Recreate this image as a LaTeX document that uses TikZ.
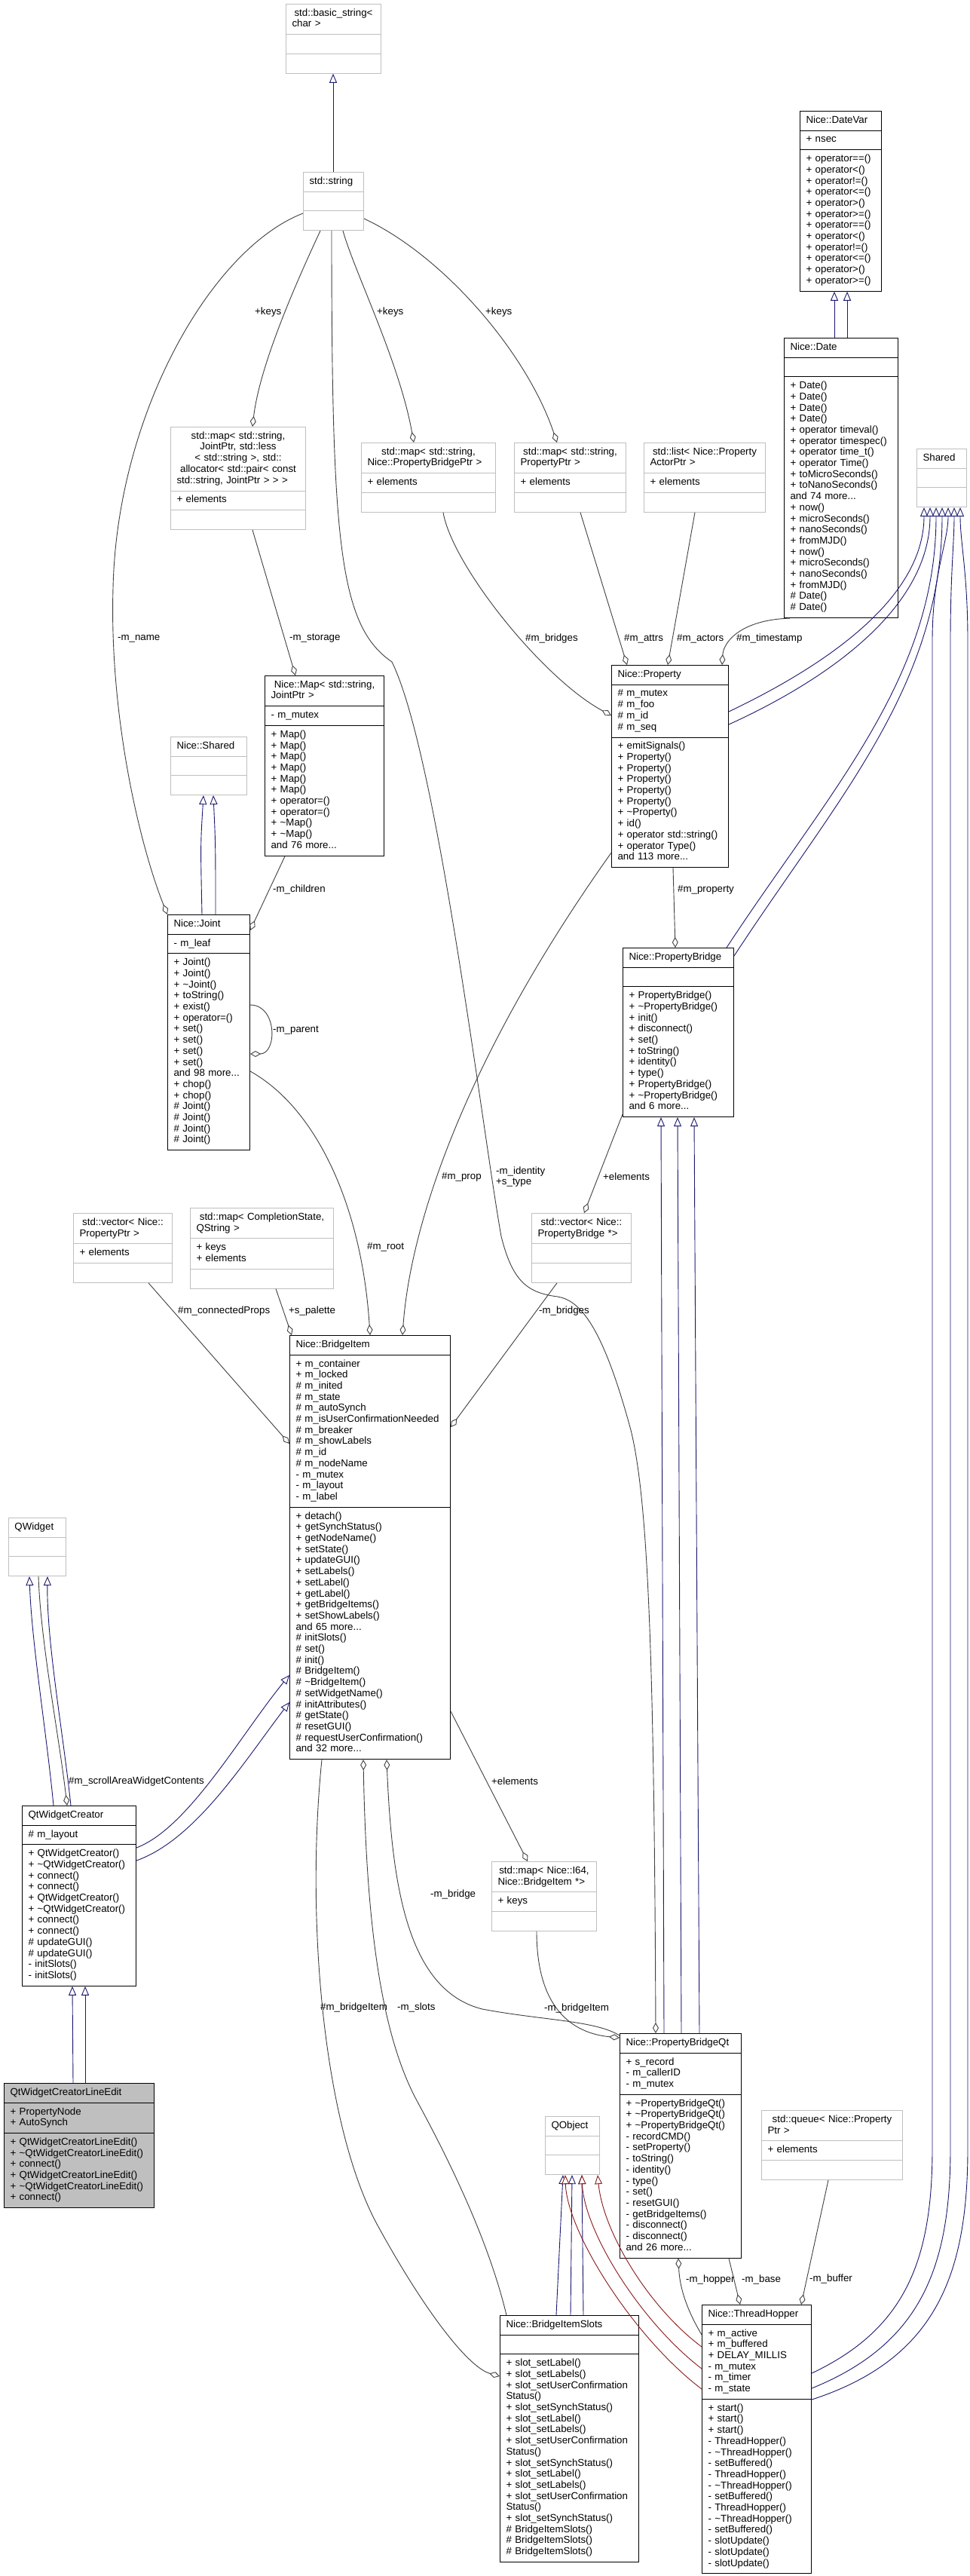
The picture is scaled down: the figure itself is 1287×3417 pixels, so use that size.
\documentclass[tikz,border=0pt]{standalone}
\usepackage{fontspec}
\setmainfont{Liberation Sans}
\usetikzlibrary{shapes.multipart,arrows.meta,calc}
\definecolor{eblue}{RGB}{25,25,112}
\definecolor{ered}{RGB}{139,26,26}
\definecolor{egrey}{RGB}{64,64,64}
\definecolor{bgrey}{RGB}{191,191,191}
\newcommand\mnl{\\\strut}
\newcommand\dfont{\fontsize{13.3}{14.7}\selectfont}
\tikzset{
 cls/.style={rectangle split, rectangle split parts=3, draw=black, line width=1pt,
   inner xsep=8pt, inner ysep=5pt, align=left, anchor=north west, font=\dfont,
   fill=white, text width=#1-16pt},
 ext/.style={cls=#1, draw=bgrey},
 cur/.style={cls=#1, fill=bgrey},
 inh/.style={draw=eblue, line width=0.9pt, -{Triangle[length=12pt,width=10pt,fill=white]}},
 inhr/.style={inh, draw=ered},
 agg/.style={draw=egrey, line width=0.9pt, {Diamond[length=14pt,width=8pt,fill=white]}-},
 lbl/.style={font=\dfont, inner sep=0pt, anchor=west},
}
\begin{document}
\begin{tikzpicture}[x=1pt,y=-1pt]
\fill[white] (0,0) rectangle (1287,3417);
\useasboundingbox (0,0) rectangle (1287,3417);

% ---------------- nodes
\node[ext=126] (basicstr) at (379,5) {\centering\strut std::basic\_string<\mnl char >\nodepart{two}\strut\nodepart{three}\strut};
\node[ext=80] (stdstring) at (402,228) {\centering\strut std::string\nodepart{two}\strut\nodepart{three}\strut};
\node[cls=108] (datevar) at (1061,147) {\centering\strut Nice::DateVar\nodepart{two}\strut + nsec\nodepart{three}\strut + operator==()\mnl + operator<()\mnl + operator!=()\mnl + operator<=()\mnl + operator>()\mnl + operator>=()\mnl + operator==()\mnl + operator<()\mnl + operator!=()\mnl + operator<=()\mnl + operator>()\mnl + operator>=()};
\node[cls=151] (date) at (1040,448) {\centering\strut Nice::Date\nodepart{two}\strut\nodepart{three}\strut + Date()\mnl + Date()\mnl + Date()\mnl + Date()\mnl + operator timeval()\mnl + operator timespec()\mnl + operator time\_t()\mnl + operator Time()\mnl + toMicroSeconds()\mnl + toNanoSeconds()\mnl and 74 more...\mnl + now()\mnl + microSeconds()\mnl + nanoSeconds()\mnl + fromMJD()\mnl + now()\mnl + microSeconds()\mnl + nanoSeconds()\mnl + fromMJD()\mnl \# Date()\mnl \# Date()};
\node[ext=66] (shared) at (1216,595) {\centering\strut Shared\nodepart{two}\strut\nodepart{three}\strut};
\node[ext=179] (mapjoint) at (226,566) {\centering\strut std::map< std::string,\mnl JointPtr, std::less\mnl < std::string >, std::\mnl allocator< std::pair< const\mnl std::string, JointPtr > > >\nodepart{two}\strut + elements\nodepart{three}\strut};
\node[ext=178] (mappbptr) at (479,587) {\centering\strut std::map< std::string,\mnl Nice::PropertyBridgePtr >\nodepart{two}\strut + elements\nodepart{three}\strut};
\node[ext=148] (mapprop) at (682,587) {\centering\strut std::map< std::string,\mnl PropertyPtr >\nodepart{two}\strut + elements\nodepart{three}\strut};
\node[ext=161] (listactor) at (854,587) {\centering\strut std::list< Nice::Property\mnl ActorPtr >\nodepart{two}\strut + elements\nodepart{three}\strut};
\node[cls=158] (map) at (351,896) {\centering\strut Nice::Map< std::string,\mnl JointPtr >\nodepart{two}\strut - m\_mutex\nodepart{three}\strut + Map()\mnl + Map()\mnl + Map()\mnl + Map()\mnl + Map()\mnl + Map()\mnl + operator=()\mnl + operator=()\mnl + \textasciitilde Map()\mnl + \textasciitilde Map()\mnl and 76 more...};
\node[ext=101] (nshared) at (226,977) {\centering\strut Nice::Shared\nodepart{two}\strut\nodepart{three}\strut};
\node[cls=109] (joint) at (222,1213) {\centering\strut Nice::Joint\nodepart{two}\strut - m\_leaf\nodepart{three}\strut + Joint()\mnl + Joint()\mnl + \textasciitilde Joint()\mnl + toString()\mnl + exist()\mnl + operator=()\mnl + set()\mnl + set()\mnl + set()\mnl + set()\mnl and 98 more...\mnl + chop()\mnl + chop()\mnl \# Joint()\mnl \# Joint()\mnl \# Joint()\mnl \# Joint()};
\node[cls=155] (property) at (811,882) {\centering\strut Nice::Property\nodepart{two}\strut \# m\_mutex\mnl \# m\_foo\mnl \# m\_id\mnl \# m\_seq\nodepart{three}\strut + emitSignals()\mnl + Property()\mnl + Property()\mnl + Property()\mnl + Property()\mnl + Property()\mnl + \textasciitilde Property()\mnl + id()\mnl + operator std::string()\mnl + operator Type()\mnl and 113 more...};
\node[cls=147] (pbridge) at (826,1257) {\centering\strut Nice::PropertyBridge\nodepart{two}\strut\nodepart{three}\strut + PropertyBridge()\mnl + \textasciitilde PropertyBridge()\mnl + init()\mnl + disconnect()\mnl + set()\mnl + toString()\mnl + identity()\mnl + type()\mnl + PropertyBridge()\mnl + \textasciitilde PropertyBridge()\mnl and 6 more...};
\node[ext=131] (vecprop) at (97,1609) {\centering\strut std::vector< Nice::\mnl PropertyPtr >\nodepart{two}\strut + elements\nodepart{three}\strut};
\node[ext=190] (mapcomp) at (252,1602) {\centering\strut std::map< CompletionState,\mnl QString >\nodepart{two}\strut + keys\mnl + elements\nodepart{three}\strut};
\node[ext=132] (vecpb) at (705,1609) {\centering\strut std::vector< Nice::\mnl PropertyBridge *>\nodepart{two}\strut\nodepart{three}\strut};
\node[cls=213] (bitem) at (384,1771) {\centering\strut Nice::BridgeItem\nodepart{two}\strut + m\_container\mnl + m\_locked\mnl \# m\_inited\mnl \# m\_state\mnl \# m\_autoSynch\mnl \# m\_isUserConfirmationNeeded\mnl \# m\_breaker\mnl \# m\_showLabels\mnl \# m\_id\mnl \# m\_nodeName\mnl - m\_mutex\mnl - m\_layout\mnl - m\_label\nodepart{three}\strut + detach()\mnl + getSynchStatus()\mnl + getNodeName()\mnl + setState()\mnl + updateGUI()\mnl + setLabels()\mnl + setLabel()\mnl + getLabel()\mnl + getBridgeItems()\mnl + setShowLabels()\mnl and 65 more...\mnl \# initSlots()\mnl \# set()\mnl \# init()\mnl \# BridgeItem()\mnl \# \textasciitilde BridgeItem()\mnl \# setWidgetName()\mnl \# initAttributes()\mnl \# getState()\mnl \# resetGUI()\mnl \# requestUserConfirmation()\mnl and 32 more...};
\node[ext=76] (qwidget) at (11,2013) {\centering\strut QWidget\nodepart{two}\strut\nodepart{three}\strut};
\node[cls=151] (qwc) at (29,2395) {\centering\strut QtWidgetCreator\nodepart{two}\strut \# m\_layout\nodepart{three}\strut + QtWidgetCreator()\mnl + \textasciitilde QtWidgetCreator()\mnl + connect()\mnl + connect()\mnl + QtWidgetCreator()\mnl + \textasciitilde QtWidgetCreator()\mnl + connect()\mnl + connect()\mnl \# updateGUI()\mnl \# updateGUI()\mnl - initSlots()\mnl - initSlots()};
\node[cur=199] (qwcle) at (5,2763) {\centering\strut QtWidgetCreatorLineEdit\nodepart{two}\strut + PropertyNode\mnl + AutoSynch\nodepart{three}\strut + QtWidgetCreatorLineEdit()\mnl + \textasciitilde QtWidgetCreatorLineEdit()\mnl + connect()\mnl + QtWidgetCreatorLineEdit()\mnl + \textasciitilde QtWidgetCreatorLineEdit()\mnl + connect()};
\node[ext=139] (mapi64) at (652,2469) {\centering\strut std::map< Nice::I64,\mnl Nice::BridgeItem *>\nodepart{two}\strut + keys\nodepart{three}\strut};
\node[cls=161] (pbqt) at (822,2697) {\centering\strut Nice::PropertyBridgeQt\nodepart{two}\strut + s\_record\mnl - m\_callerID\mnl - m\_mutex\nodepart{three}\strut + \textasciitilde PropertyBridgeQt()\mnl + \textasciitilde PropertyBridgeQt()\mnl + \textasciitilde PropertyBridgeQt()\mnl - recordCMD()\mnl - setProperty()\mnl - toString()\mnl - identity()\mnl - type()\mnl - set()\mnl - resetGUI()\mnl - getBridgeItems()\mnl - disconnect()\mnl - disconnect()\mnl and 26 more...};
\node[ext=72] (qobject) at (723,2807) {\centering\strut QObject\nodepart{two}\strut\nodepart{three}\strut};
\node[ext=187] (queue) at (1010,2799) {\centering\strut std::queue< Nice::Property\mnl Ptr >\nodepart{two}\strut + elements\nodepart{three}\strut};
\node[cls=184] (bislots) at (663,3071) {\centering\strut Nice::BridgeItemSlots\nodepart{two}\strut\nodepart{three}\strut + slot\_setLabel()\mnl + slot\_setLabels()\mnl + slot\_setUserConfirmation\mnl Status()\mnl + slot\_setSynchStatus()\mnl + slot\_setLabel()\mnl + slot\_setLabels()\mnl + slot\_setUserConfirmation\mnl Status()\mnl + slot\_setSynchStatus()\mnl + slot\_setLabel()\mnl + slot\_setLabels()\mnl + slot\_setUserConfirmation\mnl Status()\mnl + slot\_setSynchStatus()\mnl \# BridgeItemSlots()\mnl \# BridgeItemSlots()\mnl \# BridgeItemSlots()};
\node[cls=145] (thopper) at (931,3057) {\centering\strut Nice::ThreadHopper\nodepart{two}\strut + m\_active\mnl + m\_buffered\mnl + DELAY\_MILLIS\mnl - m\_mutex\mnl - m\_timer\mnl - m\_state\nodepart{three}\strut + start()\mnl + start()\mnl + start()\mnl - ThreadHopper()\mnl - \textasciitilde ThreadHopper()\mnl - setBuffered()\mnl - ThreadHopper()\mnl - \textasciitilde ThreadHopper()\mnl - setBuffered()\mnl - ThreadHopper()\mnl - \textasciitilde ThreadHopper()\mnl - setBuffered()\mnl - slotUpdate()\mnl - slotUpdate()\mnl - slotUpdate()};

% ---------------- inheritance
\draw[inh] ($(stdstring.north west)+(40,0)$) -- ($(basicstr.south west)+(63,0)$);
\draw[inh] ($(date.north west)+(67,0)$) -- ($(datevar.south west)+(46,0)$);
\draw[inh] ($(date.north west)+(84,0)$) -- ($(datevar.south west)+(63,0)$);
\draw[inh] ($(joint.north west)+(46,0)$) .. controls (266,1120) .. ($(nshared.south west)+(44,0)$);
\draw[inh] ($(joint.north west)+(64,0)$) .. controls (286,1120) .. ($(nshared.south west)+(57,0)$);
\draw[inh] ($(property.north east)+(0,62)$) .. controls (1080,890) and (1226,800) .. ($(shared.south west)+(10,0)$);
\draw[inh] ($(property.north east)+(0,79)$) .. controls (1090,905) and (1234,810) .. ($(shared.south west)+(18,0)$);
\draw[inh] ($(pbridge.north east)+(-10,0)$) .. controls (1100,1050) and (1242,900) .. ($(shared.south west)+(26,0)$);
\draw[inh] ($(pbridge.north east)+(0,11)$) .. controls (1110,1060) and (1250,910) .. ($(shared.south west)+(34,0)$);
\draw[inh] ($(thopper.north east)+(0,91)$) .. controls (1200,3090) and (1237,3000) .. (1237,2850) -- (1237,850) .. controls (1237,760) and (1258,720) .. ($(shared.south west)+(42,0)$);
\draw[inh] ($(thopper.north east)+(0,111)$) .. controls (1220,3110) and (1261,3010) .. (1261,2850) -- (1261,850) .. controls (1261,760) and (1266,720) .. ($(shared.south west)+(50,0)$);
\draw[inh] ($(thopper.north east)+(0,126)$) .. controls (1240,3130) and (1284,3020) .. (1284,2850) -- (1284,850) .. controls (1284,760) and (1274,720) .. ($(shared.south west)+(58,0)$);
\draw[inh] ($(pbqt.north west)+(59,0)$) -- ($(pbridge.south west)+(51,0)$);
\draw[inh] ($(pbqt.north west)+(82,0)$) -- ($(pbridge.south west)+(73,0)$);
\draw[inh] ($(pbqt.north west)+(106,0)$) -- ($(pbridge.south west)+(95,0)$);
\draw[inh] ($(qwcle.north west)+(92,0)$) -- ($(qwc.south west)+(67,0)$);
\draw[inh] ($(qwcle.north west)+(108,0)$) -- ($(qwc.south west)+(84,0)$);
\draw[inh] ($(qwc.north west)+(42,0)$) .. controls (62,2300) and (42,2180) .. ($(qwidget.south west)+(28,0)$);
\draw[inh] ($(qwc.north west)+(65,0)$) .. controls (84,2300) and (62,2180) .. ($(qwidget.south west)+(52,0)$);
\draw[inh] ($(qwc.north east)+(0,56)$) .. controls (250,2425) and (320,2300) .. ($(bitem.north west)+(0,451)$);
\draw[inh] ($(qwc.north east)+(0,73)$) .. controls (260,2440) and (325,2335) .. ($(bitem.north west)+(0,487)$);
\draw[inh] ($(bislots.north west)+(75,0)$) -- ($(qobject.south west)+(24,0)$);
\draw[inh] ($(bislots.north west)+(94,0)$) -- ($(qobject.south west)+(36,0)$);
\draw[inh] ($(bislots.north west)+(111,0)$) -- ($(qobject.south west)+(49,0)$);
\draw[inhr] ($(thopper.north west)+(0,56)$) .. controls (860,3060) and (800,2960) .. ($(qobject.south west)+(70,0)$);
\draw[inhr] ($(thopper.north west)+(0,85)$) .. controls (850,3080) and (775,2960) .. ($(qobject.south west)+(49,0)$);
\draw[inhr] ($(thopper.north west)+(0,112)$) .. controls (840,3100) and (752,2960) .. ($(qobject.south west)+(27,0)$);

% ---------------- aggregation
\draw[agg] ($(mapjoint.north west)+(109,0)$) .. controls (345,480) and (400,360) .. ($(stdstring.south west)+(23,0)$);
\draw[agg] ($(mappbptr.north west)+(70,0)$) .. controls (530,480) and (470,360) .. ($(stdstring.south west)+(53,0)$);
\draw[agg] ($(mapprop.north west)+(57,0)$) .. controls (700,470) and (590,340) .. ($(stdstring.north east)+(0,62)$);
\draw[agg] ($(map.north west)+(41,0)$) -- ($(mapjoint.south west)+(109,0)$);
\draw[agg] (joint.north west) .. controls (185,1120) and (145,950) .. (150,780) .. controls (155,550) and (280,330) .. ($(stdstring.north west)+(0,55)$);
\draw[agg] ($(joint.north east)+(0,21)$) -- ($(map.south west)+(27,0)$);
\draw[agg] ($(joint.north east)+(0,185)$) .. controls (368,1398) and (368,1333) .. ($(joint.north east)+(0,120)$);
\draw[agg] ($(property.north west)+(147,0)$) .. controls (960,850) and (985,822) .. ($(date.south west)+(8,0)$);
\draw[agg] ($(property.north west)+(75,0)$) -- ($(listactor.south west)+(68,0)$);
\draw[agg] ($(property.north west)+(21,0)$) -- ($(mapprop.south west)+(88,0)$);
\draw[agg] ($(property.north west)+(0,67)$) .. controls (720,900) and (600,750) .. ($(mappbptr.south west)+(109,0)$);
\draw[agg] ($(pbridge.north west)+(70,0)$) -- ($(property.south west)+(82,0)$);
\draw[agg] ($(vecpb.north west)+(70,0)$) -- ($(pbridge.south west)+(0,-4)$);
\draw[agg] ($(bitem.north east)+(0,122)$) -- ($(vecpb.south west)+(34,0)$);
\draw[agg] ($(bitem.north west)+(0,144)$) -- ($(vecprop.south west)+(100,0)$);
\draw[agg] ($(bitem.north west)+(3,0)$) -- ($(mapcomp.south west)+(114,0)$);
\draw[agg] ($(bitem.north west)+(107,0)$) .. controls (480,1600) and (420,1470) .. ($(joint.north east)+(0,208)$);
\draw[agg] ($(bitem.north west)+(150,0)$) .. controls (545,1620) and (620,1400) .. ($(property.south west)+(0,-20)$);
\draw[agg] ($(pbqt.north west)+(48,0)$) .. controls (868,2200) and (860,1990) .. (837,1897) .. controls (800,1760) and (770,1725) .. (740,1720) .. controls (700,1715) and (680,1700) .. (665,1640) .. controls (640,1500) and (580,1000) .. (520,878) .. controls (450,830) and (440,720) .. ($(stdstring.south west)+(38,0)$);
\draw[agg] ($(mapi64.north west)+(48,0)$) -- ($(bitem.north east)+(0,499)$);
\draw[agg] ($(bitem.south west)+(129,0)$) .. controls (520,2500) and (540,2640) .. (640,2665) .. controls (720,2680) and (790,2680) .. ($(pbqt.north west)+(0,3)$);
\draw[agg] ($(pbqt.north west)+(0,6)$) .. controls (760,2697) and (712,2665) .. ($(mapi64.south west)+(60,0)$);
\draw[agg] ($(bislots.north west)+(0,81)$) .. controls (620,3140) and (560,3060) .. (500,2950) .. controls (430,2820) and (405,2550) .. ($(bitem.south west)+(43,0)$);
\draw[agg] ($(bitem.south west)+(98,0)$) .. controls (486,2550) and (505,2700) .. (555,2790) .. controls (620,2910) and (655,3000) .. ($(bislots.north west)+(9,0)$);
\draw[agg] ($(qwc.north west)+(60,0)$) .. controls (78,2300) and (54,2180) .. ($(qwidget.south west)+(40,0)$);
\draw[agg] ($(pbqt.south west)+(78,0)$) .. controls (902,3040) and (915,3070) .. ($(thopper.north west)+(0,40)$);
\draw[agg] ($(thopper.north west)+(51,0)$) -- ($(pbqt.south west)+(145,0)$);
\draw[agg] ($(thopper.north west)+(132,0)$) -- ($(queue.south west)+(89,0)$);

% ---------------- labels
\node[lbl] (lk1) at (338,414) {+keys};
\node[lbl] (lk2) at (500,414) {+keys};
\node[lbl] (lk3) at (644,414) {+keys};
\node[lbl] (lname) at (156,847) {-m\_name};
\node[lbl] (lstor) at (384,847) {-m\_storage};
\node[lbl] (lchild) at (362,1180) {-m\_children};
\node[lbl] (lpar) at (362,1367) {-m\_parent};
\node[lbl] (lbr1) at (697,847) {\#m\_bridges};
\node[lbl] (lattr) at (828,847) {\#m\_attrs};
\node[lbl] (lact) at (898,847) {\#m\_actors};
\node[lbl] (ltime) at (977,847) {\#m\_timestamp};
\node[lbl] (lprop) at (899,1180) {\#m\_property};
\node[lbl] (lel1) at (800,1561) {+elements};
\node[lbl] (lbr2) at (715,1739) {-m\_bridges};
\node[lbl] (lconn) at (236,1739) {\#m\_connectedProps};
\node[lbl] (lpal) at (383,1739) {+s\_palette};
\node[lbl] (lroot) at (487,1654) {\#m\_root};
\node[lbl] (lmprop) at (586,1561) {\#m\_prop};
\node[lbl, align=left] (lident) at (658,1561) {-m\_identity\\+s\_type};
\node[lbl] (lel2) at (652,2363) {+elements};
\node[lbl] (lbrg) at (571,2513) {-m\_bridge};
\node[lbl] (lbi1) at (722,2664) {-m\_bridgeItem};
\node[lbl] (lbi2) at (425,2663) {\#m\_bridgeItem};
\node[lbl] (lslot) at (527,2663) {-m\_slots};
\node[lbl] (lscr) at (91,2363) {\#m\_scrollAreaWidgetContents};
\node[lbl] (lhop) at (910,3024) {-m\_hopper};
\node[lbl] (lbase) at (984,3024) {-m\_base};
\node[lbl] (lbuf) at (1074,3023) {-m\_buffer};
\end{tikzpicture}
\end{document}
